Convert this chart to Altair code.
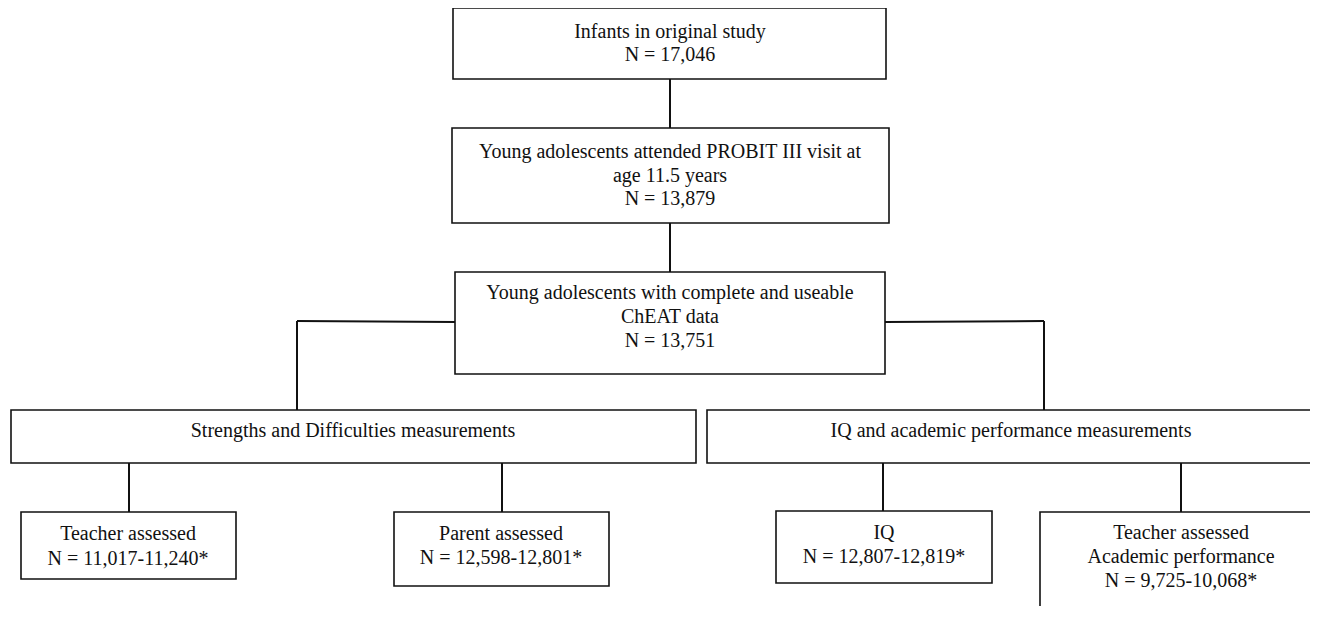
import altair as alt
import pandas as pd

# ---- content (text of each box) ----
box_texts = [
    ["Infants in original study", "N = 17,046"],
    ["Young adolescents attended PROBIT III visit at", "age 11.5 years", "N = 13,879"],
    ["Young adolescents with complete and useable", "ChEAT data", "N = 13,751"],
    ["Strengths and Difficulties measurements"],
    ["IQ and academic performance measurements"],
    ["Teacher assessed", "N = 11,017-11,240*"],
    ["Parent assessed", "N = 12,598-12,801*"],
    ["IQ", "N = 12,807-12,819*"],
    ["Teacher assessed", "Academic performance", "N = 9,725-10,068*"],
]

# ---- layout (page pixel coordinates) ----
box_x1 = [453, 452, 455, 11, 707, 21, 394, 776, 1040]
box_x2 = [886, 889, 885, 696, 1316, 236, 609, 992, 1325]
box_y1 = [8, 128, 272, 410, 410, 512, 512, 511, 512]
box_y2 = [79, 223, 374, 463, 463, 579, 586, 583, 650]
text_center_x = [670, 670, 670, 353, 1011, 128, 501, 884, 1181]
text_baselines = [
    [38, 61],
    [158, 182, 205],
    [299, 323, 347],
    [437],
    [437],
    [540, 565],
    [540, 564],
    [539, 563],
    [539, 563, 587],
]

seg_x1 = [670, 670, 455, 297, 885, 1044, 129, 502, 883, 1181]
seg_y1 = [79, 223, 322, 321, 322, 321, 463, 463, 463, 463]
seg_x2 = [670, 670, 297, 297, 1044, 1044, 129, 502, 883, 1181]
seg_y2 = [128, 272, 321, 410, 321, 410, 512, 512, 511, 512]

W, H = 1302, 598
OX, OY = 8, 8

boxes = pd.DataFrame({"x1": box_x1, "x2": box_x2, "y1": box_y1, "y2": box_y2})
segs = pd.DataFrame({"x1": seg_x1, "y1": seg_y1, "x2": seg_x2, "y2": seg_y2})
rows = []
for lines, cx, ys in zip(box_texts, text_center_x, text_baselines):
    for t, y in zip(lines, ys):
        rows.append({"x": cx, "y": y, "t": t})
texts = pd.DataFrame(rows)

xs = alt.Scale(domain=[OX, OX + W], nice=False, zero=False)
ys = alt.Scale(domain=[OY, OY + H], nice=False, zero=False, reverse=True)

rects = alt.Chart(boxes).mark_rect(
    fill="white", stroke="#111111", strokeWidth=1.6
).encode(
    x=alt.X("x1:Q", scale=xs, axis=None),
    x2="x2:Q",
    y=alt.Y("y1:Q", scale=ys, axis=None),
    y2="y2:Q",
)

rules = alt.Chart(segs).mark_rule(color="#111111", strokeWidth=2).encode(
    x=alt.X("x1:Q", scale=xs, axis=None),
    x2="x2:Q",
    y=alt.Y("y1:Q", scale=ys, axis=None),
    y2="y2:Q",
)

labels = alt.Chart(texts).mark_text(
    font="Liberation Serif, Times New Roman, serif", fontSize=20, color="#111111",
    align="center", baseline="alphabetic"
).encode(
    x=alt.X("x:Q", scale=xs, axis=None),
    y=alt.Y("y:Q", scale=ys, axis=None),
    text="t:N",
)

chart = alt.layer(rules, rects, labels).properties(
    width=W, height=H, padding=0,
    autosize=alt.AutoSizeParams(type="none"),
).configure_view(stroke=None)

chart.save("out.html", embed_options={"renderer": "svg", "actions": False})
